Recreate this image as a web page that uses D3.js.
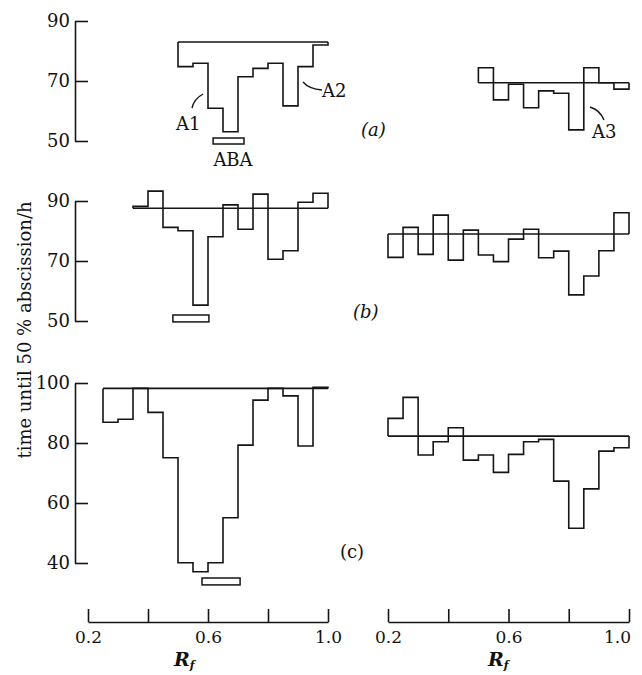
<!DOCTYPE html>
<html>
<head>
<meta charset="utf-8">
<script src="https://cdn.jsdelivr.net/npm/d3@7"></script>
<style>
  body { margin: 0; background: #fff; }
  svg { display: block; }
  text { font-family: "DejaVu Serif", "Liberation Serif", serif; fill: #111; }
</style>
</head>
<body>
<div id="container"></div>
<script>
/* CONSTANTS AND GLOBALS */
const width = 642,
  height = 675,
  binW = 0.05;

/* DATA (Rf bins of 0.05, values = time until 50 % abscission, h) */
// row (a)
const aLeftStart = 0.5, aLeftCtrl = 83;
const aLeftVals = [74.8, 75.9, 60.9, 53.1, 71.4, 74.2, 75.9, 61.7, 74.8, 82];
const aRightStart = 0.5, aRightCtrl = 69.4;
const aRightVals = [74.4, 63.7, 68.9, 61.1, 66.7, 65.9, 53.7, 74.4, 69.4, 67.3];
// row (b)
const bLeftStart = 0.35, bLeftCtrl = 87.6;
const bLeftVals = [88.2, 93.3, 81.2, 80.1, 55.3, 78.1, 88.7, 80.6, 92.3, 70.6, 73.4, 89.6, 92.6];
const bRightStart = 0.2, bRightCtrl = 79;
const bRightVals = [71.2, 81.2, 72.2, 85.3, 70.3, 80.3, 72, 69.8, 77.3, 80.6, 71.1, 73.3, 58.7, 65, 73.4, 86.1];
// row (c)
const cLeftStart = 0.25, cLeftCtrl = 98.2;
const cLeftVals = [86.9, 87.9, 98.2, 90.2, 75.1, 40.1, 37.1, 40.1, 55.1, 79.3, 94.3, 98.2, 95.7, 79, 98.6];
const cRightStart = 0.2, cRightCtrl = 82.3;
const cRightVals = [88.2, 95.2, 76, 80.4, 85.1, 74.3, 76, 70.2, 76.2, 80.4, 81.2, 67.3, 51.6, 64.7, 77.3, 78.4];

// ABA marker bars [Rf from, Rf to, low, high]
const abaA = [0.617, 0.72, 49, 51];
const abaB = [0.483, 0.603, 49.7, 52];
const abaC = [0.58, 0.707, 32.7, 35];

// tick labels
const yTicksAB = [90, 70, 50];
const yTicksC = [100, 80, 60, 40];
const xTicks = [0.2, 0.4, 0.6, 0.8, 1.0];
const xLabelled = [0.2, 0.6, 1.0];

/* SCALES */
const xLeft = d3.scaleLinear().domain([0.2, 1.0]).range([88, 328]);
const xRight = d3.scaleLinear().domain([0.2, 1.0]).range([388, 629]);
const yA = d3.scaleLinear().domain([50, 90]).range([141, 21]);
const yB = d3.scaleLinear().domain([50, 90]).range([321, 201]);
const yC = d3.scaleLinear().domain([40, 100]).range([563, 383]);

//svg
const svg = d3.select("#container").append("svg")
  .attr("width", width)
  .attr("height", height);

const ink = "#151515";

// one histogram = control line + step outline
function drawPanel(xs, ys, start, vals, ctrl) {
  const end = start + vals.length * binW;
  svg.append("line")
    .attr("x1", xs(start)).attr("x2", xs(end))
    .attr("y1", ys(ctrl)).attr("y2", ys(ctrl))
    .attr("stroke", ink).attr("stroke-width", 1.6);

  const pts = [[start, ctrl]];
  vals.forEach((v, i) => pts.push([start + i * binW, v]));
  pts.push([end, vals[vals.length - 1]]);
  pts.push([end, ctrl]);

  const line = d3.line()
    .x(d => xs(d[0]))
    .y(d => ys(d[1]))
    .curve(d3.curveStepAfter);

  svg.append("path")
    .attr("d", line(pts))
    .attr("fill", "none")
    .attr("stroke", ink)
    .attr("stroke-width", 1.6);
}

function drawAba(xs, ys, r) {
  svg.append("rect")
    .attr("x", xs(r[0])).attr("width", xs(r[1]) - xs(r[0]))
    .attr("y", ys(r[3])).attr("height", ys(r[2]) - ys(r[3]))
    .attr("fill", "none").attr("stroke", ink).attr("stroke-width", 1.5);
}

function drawYAxis(ys, ticks) {
  const ax = d3.axisLeft(ys)
    .tickValues(ticks)
    .tickSizeInner(-13)
    .tickSizeOuter(0)
    .tickPadding(5);
  const g = svg.append("g").attr("transform", "translate(75,0)").call(ax);
  g.selectAll("path, line").attr("stroke", ink).attr("stroke-width", 1.6);
  g.selectAll("text").attr("font-size", 18).attr("font-family", "DejaVu Serif").attr("fill", ink);
}

function drawXAxis(xs, lastShift) {
  const ax = d3.axisBottom(xs)
    .tickValues(xTicks)
    .tickSizeInner(-13)
    .tickSizeOuter(0)
    .tickPadding(9)
    .tickFormat(d => xLabelled.some(t => Math.abs(t - d) < 1e-9) ? d3.format(".1f")(d) : "");
  const g = svg.append("g").attr("transform", "translate(0,622)").call(ax);
  g.selectAll("path, line").attr("stroke", ink).attr("stroke-width", 1.6);
  g.selectAll("text").attr("font-size", 17).attr("font-family", "DejaVu Serif").attr("fill", ink)
    .attr("dx", d => d === 1.0 ? lastShift : 0);
}

/* PANELS */
drawPanel(xLeft, yA, aLeftStart, aLeftVals, aLeftCtrl);
drawPanel(xRight, yA, aRightStart, aRightVals, aRightCtrl);
drawPanel(xLeft, yB, bLeftStart, bLeftVals, bLeftCtrl);
drawPanel(xRight, yB, bRightStart, bRightVals, bRightCtrl);
drawPanel(xLeft, yC, cLeftStart, cLeftVals, cLeftCtrl);
drawPanel(xRight, yC, cRightStart, cRightVals, cRightCtrl);

drawAba(xLeft, yA, abaA);
drawAba(xLeft, yB, abaB);
drawAba(xLeft, yC, abaC);

/* AXES */
drawYAxis(yA, yTicksAB);
drawYAxis(yB, yTicksAB);
drawYAxis(yC, yTicksC);
drawXAxis(xLeft, 0);
drawXAxis(xRight, -12);

/* LABELS */
svg.append("text")
  .attr("transform", "translate(31,330) rotate(-90)")
  .attr("text-anchor", "middle")
  .attr("font-size", 18)
  .text("time until 50 % abscission/h");

[174, 488].forEach(x => {
  const t = svg.append("text")
    .attr("x", x).attr("y", 666)
    .attr("font-size", 19).attr("font-style", "italic").attr("font-weight", "bold");
  t.append("tspan").text("R");
  t.append("tspan").attr("font-size", 11).attr("dy", 3).text("f");
});

svg.append("text").attr("x", 361).attr("y", 136).attr("font-size", 18).attr("font-style", "italic").text("(a)");
svg.append("text").attr("x", 353).attr("y", 318).attr("font-size", 18).attr("font-style", "italic").text("(b)");
svg.append("text").attr("x", 340).attr("y", 558).attr("font-size", 18).text("(c)");

// annotations in row (a)
svg.append("text").attr("x", 176).attr("y", 130).attr("font-size", 18).text("A1");
svg.append("text").attr("x", 322).attr("y", 97).attr("font-size", 18).text("A2");
svg.append("text").attr("x", 233).attr("y", 166).attr("font-size", 18).attr("text-anchor", "middle").text("ABA");
svg.append("text").attr("x", 592).attr("y", 138).attr("font-size", 18).text("A3");

const leaders = [
  "M192,108 Q194,99 203,94",
  "M303,82 Q309,89 322,90",
  "M590,107 Q600,110 604,120"
];
leaders.forEach(d => svg.append("path").attr("d", d)
  .attr("fill", "none").attr("stroke", ink).attr("stroke-width", 1.4));
</script>
</body>
</html>
